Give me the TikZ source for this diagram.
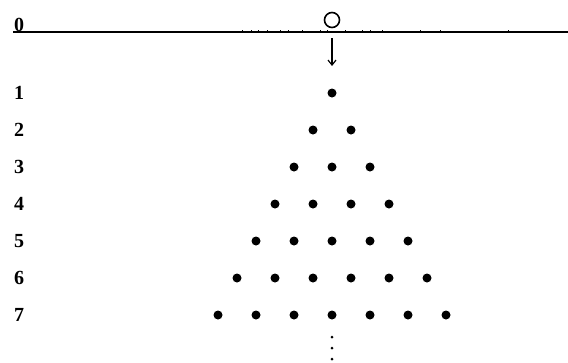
\documentclass[tikz,border=0pt]{standalone}
\usepackage{fontspec}
\setmainfont{Liberation Serif}
\usetikzlibrary{arrows.meta}
\tikzset{
  rowlabel/.style={font=\fontsize{20}{22}\selectfont\bfseries, inner sep=0pt},
  dot/.style={circle, fill, inner sep=0pt, minimum size=9pt},
  smalldot/.style={circle, fill, inner sep=0pt, minimum size=3pt}
}
\begin{document}
\begin{tikzpicture}[x=1pt, y=-1pt, >={Straight Barb[length=5pt,width=8pt]}]
    \useasboundingbox (0,0) rectangle (568,362);
    % axis
    \coordinate (axl) at (13,32);
    \coordinate (axr) at (568,32);
    \draw[line width=1.5pt] (axl) -- (axr);
    \foreach \x in {242,251,258,267,280,288,302,320,327,345,362,370,382,420,440,508}{\draw[line width=1pt] (\x,32) -- (\x,29.8);}
    \node[rowlabel, anchor=base] (zero) at (19,31) {0};
    \node[circle, draw, line width=1.6pt, minimum size=15pt, inner sep=0pt] (src) at (332,20) {};
    % arrow
    \coordinate (atop) at (332,38);
    \coordinate (abot) at (332,66);
    \draw[->, line width=1.2pt] (atop) -- (abot);
    % rows of dots
    \foreach \r in {1,...,7}{
      \node[rowlabel] (lab\r) at (19,{93+37*(\r-1)}) {\r};
      \foreach \k in {1,...,\r}{
        \node[dot] (d\r-\k) at ({332+38*(\k-(\r+1)/2)},{93+37*(\r-1)}) {};
      }
    }
    % continuation
    \foreach \y [count=\i] in {337,348,359}{\node[smalldot] (vd\i) at (332,\y) {};}
  \end{tikzpicture}
\end{document}
